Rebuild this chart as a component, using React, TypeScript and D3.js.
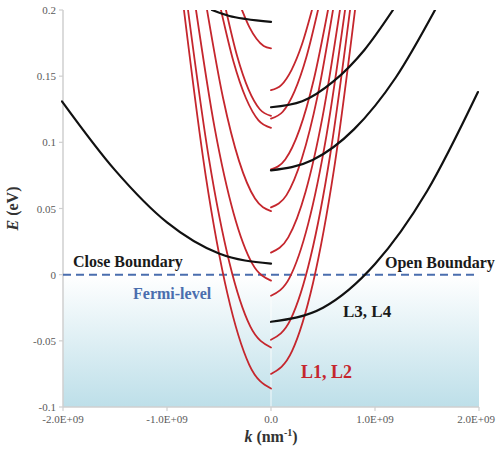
import React from "react";
import * as d3 from "d3";

// k in units of 1E+09 nm^-1, E in eV
const kTicks = [-2, -1, 0, 1, 2];
const kTickLabels = ["-2.0E+09", "-1.0E+09", "0.0", "1.0E+09", "2.0E+09"];
const eTicks = [0.2, 0.15, 0.1, 0.05, 0, -0.05, -0.1];
const eTickLabels = ["0.2", "0.15", "0.1", "0.05", "0", "-0.05", "-0.1"];

// Close boundary (k < 0) subbands
const redClose: [number, number][][] = [
  [[-0.837, 0.2], [-0.628, 0.0749], [-0.4185, -0.0145], [-0.209, -0.0681], [0, -0.086]],
  [[-0.798, 0.2], [-0.5985, 0.0884], [-0.399, 0.0088], [-0.1995, -0.0391], [0, -0.055]],
  [[-0.721, 0.2], [-0.541, 0.1105], [-0.3605, 0.0466], [-0.18, 0.0083], [0, -0.0045]],
  [[-0.615, 0.2], [-0.461, 0.1335], [-0.3075, 0.086], [-0.154, 0.0575], [0, 0.048]],
  [[-0.481, 0.2], [-0.361, 0.1611], [-0.2405, 0.1333], [-0.12, 0.1166], [0, 0.111]],
  [[-0.433, 0.2], [-0.325, 0.165], [-0.2165, 0.14], [-0.108, 0.125], [0, 0.12]],
  [[-0.279, 0.2], [-0.209, 0.1873], [-0.1395, 0.1783], [-0.07, 0.1728], [0, 0.171]],
];
const blackClose: [number, number][][] = [
  [[-0.567, 0.2], [-0.4, 0.1955], [-0.24, 0.1932], [0, 0.191]],
  [[-2.01, 0.131], [-1.5, 0.079], [-1.0, 0.0395], [-0.5, 0.016], [0, 0.0083]],
];

// Open boundary (k > 0) subbands
const redOpen: [number, number][][] = [
  [[0, 0.1394], [0.0985, 0.1432], [0.197, 0.1546], [0.2955, 0.1735], [0.394, 0.2]],
  [[0, 0.118], [0.113, 0.1231], [0.226, 0.1385], [0.339, 0.1641], [0.452, 0.2]],
  [[0, 0.0795], [0.137, 0.087], [0.274, 0.1096], [0.411, 0.1473], [0.548, 0.2]],
  [[0, 0.0508], [0.149, 0.0601], [0.298, 0.0881], [0.447, 0.1347], [0.596, 0.2]],
  [[0, 0.0167], [0.166, 0.0282], [0.332, 0.0625], [0.497, 0.1198], [0.663, 0.2]],
  [[0, -0.0159], [0.178, -0.0024], [0.356, 0.038], [0.534, 0.1055], [0.712, 0.2]],
  [[0, -0.0492], [0.19, -0.0336], [0.38, 0.0131], [0.57, 0.091], [0.76, 0.2]],
  [[0, -0.075], [0.202, -0.0578], [0.404, -0.0063], [0.606, 0.0797], [0.808, 0.2]],
];
const blackOpen: [number, number][][] = [
  [[0, 0.1265], [0.3, 0.131], [0.6, 0.146], [0.9, 0.17], [1.173, 0.2]],
  [[0, 0.0788], [0.4, 0.0866], [0.8, 0.11], [1.2, 0.149], [1.577, 0.2]],
  [[0, -0.0356], [0.5, -0.025], [1.0, 0.008], [1.5, 0.063], [1.99, 0.138]],
];

const fermiLevel = 0;

const W = 496;
const H = 449;
const serif = "Liberation Serif, Times New Roman, DejaVu Serif, serif";

export default function App() {
  const x = d3.scaleLinear().domain([-2, 2]).range([63, 479]);
  const y = d3.scaleLinear().domain([-0.1, 0.2]).range([407, 10]);
  const line = d3
    .line<[number, number]>()
    .x((d) => x(d[0]))
    .y((d) => y(d[1]))
    .curve(d3.curveMonotoneX);

  const sorted = (pts: [number, number][]) => [...pts].sort((a, b) => a[0] - b[0]);

  const red = "#c5262d";
  const blue = "#4a6eae";
  const axisGray = "#cfcfcf";
  const tickText = "#5a5a5a";
  const tf = { fontFamily: serif };

  return (
    <svg
      width={W}
      height={H}
      style={{ position: "absolute", left: 0, top: 0, background: "#fff" }}
    >
      <defs>
        <linearGradient id="below" x1="0" y1="0" x2="0" y2="1">
          <stop offset="0%" stopColor="#ffffff" />
          <stop offset="100%" stopColor="#bddfe9" />
        </linearGradient>
        <clipPath id="plot">
          <rect x={x(-2) - 2} y={y(0.2)} width={x(2) - x(-2) + 4} height={y(-0.1) - y(0.2)} />
        </clipPath>
      </defs>

      {/* shaded region below Fermi level */}
      <rect
        x={x(-2)}
        y={y(fermiLevel)}
        width={x(2) - x(-2)}
        height={y(-0.1) - y(fermiLevel)}
        fill="url(#below)"
      />
      <line
        x1={x(0)}
        x2={x(0)}
        y1={y(fermiLevel)}
        y2={y(-0.1)}
        stroke="#ffffff"
        strokeWidth={1}
        opacity={0.8}
      />

      {/* axes */}
      <line x1={x(-2)} x2={x(-2)} y1={y(0.2)} y2={y(-0.1)} stroke={axisGray} strokeWidth={1.5} />
      <line x1={x(-2)} x2={x(2)} y1={y(-0.1)} y2={y(-0.1)} stroke={axisGray} strokeWidth={1.5} />
      {eTicks.map((t, i) => (
        <g key={"e" + i}>
          <line x1={x(-2) - 4} x2={x(-2)} y1={y(t)} y2={y(t)} stroke={axisGray} strokeWidth={1.2} />
          <text
            x={x(-2) - 7}
            y={y(t) + 4}
            textAnchor="end"
            style={tf}
            fontSize={11}
            fill={tickText}
          >
            {eTickLabels[i]}
          </text>
        </g>
      ))}
      {kTicks.map((t, i) => {
        const last = i === kTicks.length - 1;
        return (
          <g key={"k" + i}>
            <line x1={x(t)} x2={x(t)} y1={y(-0.1)} y2={y(-0.1) + 4} stroke={axisGray} strokeWidth={1.2} />
            <text
              x={last ? W - 1 : x(t)}
              y={y(-0.1) + 16}
              textAnchor={last ? "end" : "middle"}
              style={tf}
              fontSize={11}
              fill={tickText}
            >
              {kTickLabels[i]}
            </text>
          </g>
        );
      })}

      {/* Fermi level */}
      <line
        x1={x(-2)}
        x2={x(2) - 4}
        y1={y(fermiLevel)}
        y2={y(fermiLevel)}
        stroke={blue}
        strokeWidth={2}
        strokeDasharray="8 5"
      />

      {/* curves */}
      <g clipPath="url(#plot)" fill="none" strokeLinecap="round">
        {redClose.map((c, i) => (
          <path key={"rc" + i} d={line(sorted(c)) || ""} stroke={red} strokeWidth={1.8} />
        ))}
        {redOpen.map((c, i) => (
          <path key={"ro" + i} d={line(sorted(c)) || ""} stroke={red} strokeWidth={1.8} />
        ))}
        {blackClose.map((c, i) => (
          <path key={"bc" + i} d={line(sorted(c)) || ""} stroke="#111" strokeWidth={2.2} />
        ))}
        {blackOpen.map((c, i) => (
          <path key={"bo" + i} d={line(sorted(c)) || ""} stroke="#111" strokeWidth={2.2} />
        ))}
      </g>

      {/* annotations */}
      <text x={73} y={267} style={tf} fontWeight="bold" fontSize={16} fill="#1a1a1a">
        Close Boundary
      </text>
      <text x={133} y={299} style={tf} fontWeight="bold" fontSize={16} fill={blue}>
        Fermi-level
      </text>
      <text x={385} y={268} style={tf} fontWeight="bold" fontSize={16} fill="#1a1a1a">
        Open Boundary
      </text>
      <text x={343} y={317} style={tf} fontWeight="bold" fontSize={17} fill="#1a1a1a">
        L3, L4
      </text>
      <text x={301} y={378} style={tf} fontWeight="bold" fontSize={18} fill={red}>
        L1, L2
      </text>

      {/* axis titles */}
      <text
        transform={`translate(18, ${y(0.05)}) rotate(-90)`}
        textAnchor="middle"
        style={tf}
        fontWeight="bold"
        fontSize={16}
        fill="#333"
      >
        <tspan fontStyle="italic">E</tspan> (eV)
      </text>
      <text
        x={x(0)}
        y={442}
        textAnchor="middle"
        style={tf}
        fontWeight="bold"
        fontSize={16}
        fill="#333"
      >
        <tspan fontStyle="italic">k</tspan> (nm
        <tspan dy={-6} fontSize={10}>-1</tspan>
        <tspan dy={6}>)</tspan>
      </text>
    </svg>
  );
}
